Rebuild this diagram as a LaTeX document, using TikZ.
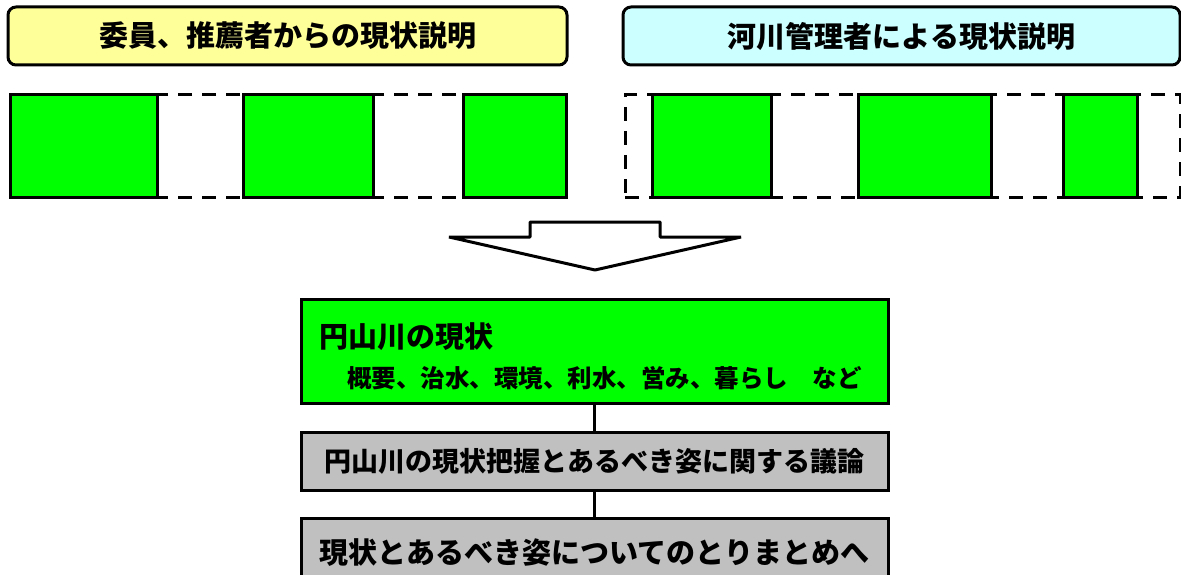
\documentclass[tikz,border=0pt]{standalone}
\usepackage{fontspec}
\newfontfamily\jp{Noto Sans CJK JP}
\tikzset{
  title/.style={draw,line width=3pt,rounded corners=8pt,minimum height=58pt,font=\jp\bfseries\fontsize{29}{31}\selectfont},
  strip/.style={draw,line width=3pt,dash pattern=on 14pt off 10pt,minimum height=102pt},
  green/.style={draw,line width=3pt,fill=grn,minimum height=102pt},
  box/.style={draw,line width=3pt,minimum width=587pt}
}
\definecolor{grn}{HTML}{00FF00}
\definecolor{yel}{HTML}{FFFF99}
\definecolor{cyn}{HTML}{CCFFFF}
\definecolor{gry}{HTML}{C0C0C0}
\begin{document}
\begin{tikzpicture}[x=1pt,y=-1pt]
\useasboundingbox (0,0) rectangle (1181,575);
\node[title,fill=yel,minimum width=559pt] (T1) at (287.5,36) {委員、推薦者からの現状説明};
\node[title,fill=cyn,minimum width=557pt] (T2) at (901.5,36) {河川管理者による現状説明};
% strips of material
\node[strip,minimum width=556pt] (S1) at (288,146) {};
\node[strip,minimum width=555pt] (S2) at (902.5,146) {};
\foreach \n/\x/\w in {A/83.5/147,B/308/130,C/514.5/103,D/711.5/119,E/924.5/133,F/1100/74} {
  \node[green,minimum width=\w pt] (\n) at (\x,146) {};
}
% big arrow
\draw[line width=3pt,line join=bevel,fill=white] (449,237) -- (530,237) -- (530,222) -- (660,222)
  -- (660,237) -- (741,237) -- (595,270) -- cycle;
\node[box,fill=grn,minimum height=104pt] (M) at (594.5,351) {};
\node[anchor=west,font=\jp\bfseries\fontsize{29}{31}\selectfont,inner sep=0pt] (M1) at (319,337) {円山川の現状};
\node[anchor=west,font=\jp\bfseries\fontsize{24.5}{26}\selectfont,inner sep=0pt] (M2) at (347,378) {概要、治水、環境、利水、営み、暮らし　など};
\node[box,fill=gry,minimum height=58pt,font=\jp\bfseries\fontsize{27}{29}\selectfont] (B1) at (594.5,461) {円山川の現状把握とあるべき姿に関する議論};
\node[box,fill=gry,minimum height=70pt,font=\jp\bfseries\fontsize{29}{31}\selectfont] (B2) at (594.5,553) {現状とあるべき姿についてのとりまとめへ};
\foreach \i/\j in {M/B1,B1/B2} {
  \draw[line width=3pt] (\i) -- (\j);
}
\end{tikzpicture}
\end{document}
